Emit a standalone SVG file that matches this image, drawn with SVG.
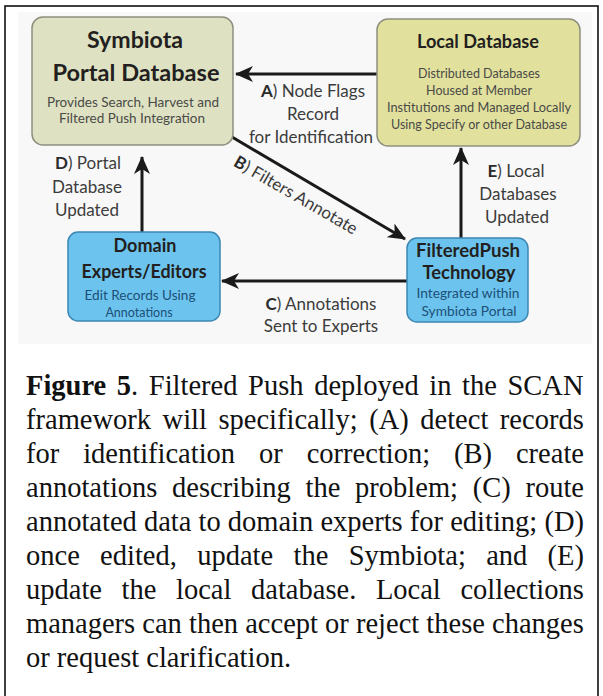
<svg xmlns="http://www.w3.org/2000/svg" width="603" height="696" viewBox="0 0 603 696">
<style>
.frame{fill:none;stroke:#111;stroke-width:1.6}
.green{fill:#dfe2c2;stroke:#8e8f7e;stroke-width:1.5}
.yellow{fill:#e1e19d;stroke:#8e8f7e;stroke-width:1.5}
.blue{fill:#6cc4ee;stroke:#3d87b3;stroke-width:1.5}
.t{font-family:Lato,"Open Sans",sans-serif;text-anchor:middle}
.ttl{font-weight:bold;fill:#231f20}
.sub{fill:#4a4a48;font-size:12.5px}
.bsub{fill:#1d4f78;font-size:12.5px}
.lbl{fill:#3c3c3c;font-size:17px}
.lbl tspan.k{font-weight:bold;fill:#2a2a2a}
.edge{stroke:#1a1a1a;stroke-width:3;fill:none;marker-end:url(#ah)}
.cap{font-family:"Liberation Serif","Times New Roman",serif;font-size:28.5px;fill:#111}
</style>
<defs>
<marker id="ah" markerUnits="userSpaceOnUse" markerWidth="18" markerHeight="16" refX="17" refY="8" orient="auto">
<path d="M0,0 L18,8 L0,16 L5,8 Z" fill="#1a1a1a"/>
</marker>
</defs>
<rect x="0" y="0" width="603" height="696" fill="#fff"/>
<rect x="18" y="12" width="574" height="332" fill="#f8f8f8"/>
<rect class="frame" x="5" y="6" width="593" height="710"/>

<g id="edges">
<line class="edge" x1="377" y1="74" x2="236" y2="74"/>
<line class="edge" x1="232" y1="137" x2="405" y2="239"/>
<line class="edge" x1="407" y1="281" x2="222" y2="281"/>
<line class="edge" x1="142" y1="232" x2="142" y2="157"/>
<line class="edge" x1="461" y1="238" x2="461" y2="148"/>
<text class="t lbl" x="313" y="97"><tspan class="k">A</tspan>) Node Flags</text>
<text class="t lbl" x="313" y="120">Record</text>
<text class="t lbl" x="311" y="143">for Identification</text>
<text class="t lbl" x="0" y="0" transform="translate(296,195) rotate(30)" dy="6"><tspan class="k">B</tspan>) Filters Annotate</text>
<text class="t lbl" x="321" y="310"><tspan class="k">C</tspan>) Annotations</text>
<text class="t lbl" x="321" y="332">Sent to Experts</text>
<text class="t lbl" x="88" y="169"><tspan class="k">D</tspan>) Portal</text>
<text class="t lbl" x="87" y="193">Database</text>
<text class="t lbl" x="87" y="216">Updated</text>
<text class="t lbl" x="516" y="177"><tspan class="k">E</tspan>) Local</text>
<text class="t lbl" x="518" y="200">Databases</text>
<text class="t lbl" x="517" y="223">Updated</text>
</g>

<g id="symbiota">
<rect class="green" x="32" y="17" width="201" height="128" rx="11"/>
<text class="t ttl" x="135" y="48" font-size="22" textLength="96" lengthAdjust="spacingAndGlyphs">Symbiota</text>
<text class="t ttl" x="136" y="81" font-size="22" textLength="167" lengthAdjust="spacingAndGlyphs">Portal Database</text>
<text class="t sub" x="133" y="107" textLength="172" lengthAdjust="spacingAndGlyphs">Provides Search, Harvest and</text>
<text class="t sub" x="132" y="123" textLength="146" lengthAdjust="spacingAndGlyphs">Filtered Push Integration</text>
</g>

<g id="local">
<rect class="yellow" x="377" y="19" width="203" height="127" rx="11"/>
<text class="t ttl" x="478" y="48" font-size="18.5" textLength="122" lengthAdjust="spacingAndGlyphs">Local Database</text>
<text class="t sub" x="479" y="78" textLength="122" lengthAdjust="spacingAndGlyphs">Distributed Databases</text>
<text class="t sub" x="479" y="95">Housed at Member</text>
<text class="t sub" x="479" y="112" textLength="184" lengthAdjust="spacingAndGlyphs">Institutions and Managed Locally</text>
<text class="t sub" x="479" y="129" textLength="176" lengthAdjust="spacingAndGlyphs">Using Specify or other Database</text>
</g>

<g id="domain">
<rect class="blue" x="68" y="232" width="152" height="89" rx="10"/>
<text class="t ttl" x="145" y="252" font-size="18" textLength="63" lengthAdjust="spacingAndGlyphs">Domain</text>
<text class="t ttl" x="144" y="278" font-size="18" textLength="125" lengthAdjust="spacingAndGlyphs">Experts/Editors</text>
<text class="t bsub" x="140" y="300" textLength="111" lengthAdjust="spacingAndGlyphs">Edit Records Using</text>
<text class="t bsub" x="139" y="317">Annotations</text>
</g>

<g id="filteredpush">
<rect class="blue" x="407" y="238" width="121" height="84" rx="10"/>
<text class="t ttl" x="468" y="257" font-size="18" textLength="104" lengthAdjust="spacingAndGlyphs">FilteredPush</text>
<text class="t ttl" x="469" y="279" font-size="18" textLength="93" lengthAdjust="spacingAndGlyphs">Technology</text>
<text class="t bsub" x="468" y="298" textLength="103" lengthAdjust="spacingAndGlyphs">Integrated within</text>
<text class="t bsub" x="469" y="316" textLength="95" lengthAdjust="spacingAndGlyphs">Symbiota Portal</text>
</g>

<g id="caption">
<text class="cap" x="26" y="395" word-spacing="3.5"><tspan font-weight="bold">Figure 5</tspan>. Filtered Push deployed in the SCAN</text>
<text class="cap" x="26" y="429" word-spacing="4.4">framework will specifically; (A) detect records</text>
<text class="cap" x="26" y="463" word-spacing="16.8">for identification or correction; (B) create</text>
<text class="cap" x="26" y="497" word-spacing="7.6">annotations describing the problem; (C) route</text>
<text class="cap" x="26" y="531">annotated data to domain experts for editing; (D)</text>
<text class="cap" x="26" y="565" word-spacing="13.2">once edited, update the Symbiota; and (E)</text>
<text class="cap" x="26" y="599" word-spacing="12.5">update the local database. Local collections</text>
<text class="cap" x="26" y="633">managers can then accept or reject these changes</text>
<text class="cap" x="26" y="667">or request clarification.</text>
</g>
</svg>
